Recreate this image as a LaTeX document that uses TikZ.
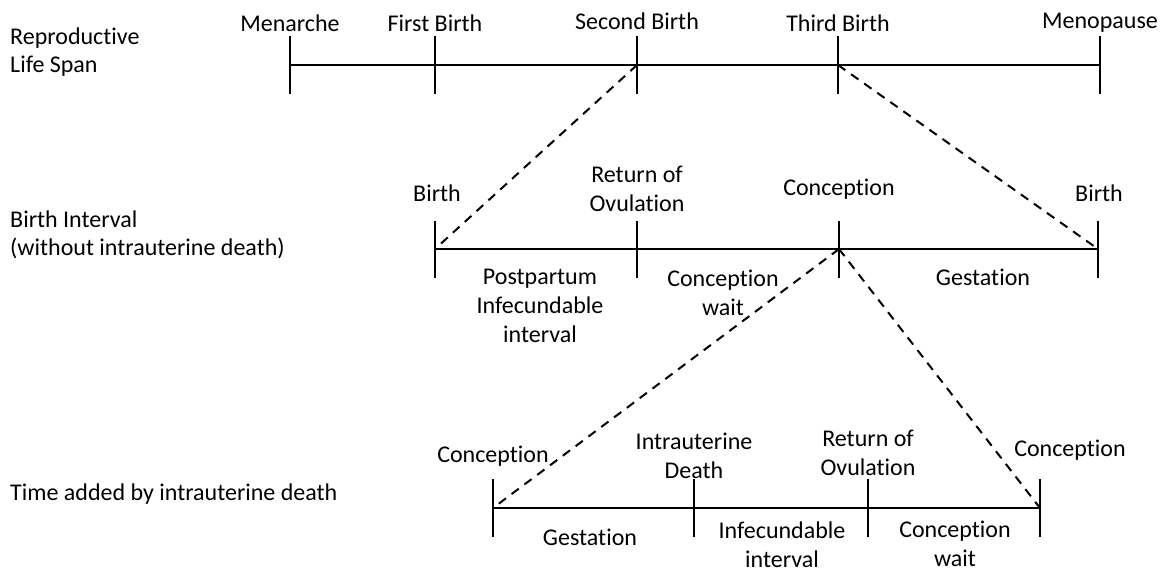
\documentclass[tikz,border=0pt]{standalone}
\usepackage{fontspec}
\setmainfont{Carlito}[Ligatures=NoCommon]
\begin{document}
\begin{tikzpicture}[x=1pt,y=-1pt,
  lbl/.style={font=\fontsize{24}{29}\selectfont, inner sep=0pt, align=center},
  side/.style={font=\fontsize{24}{28}\selectfont, inner sep=0pt, align=left, anchor=west},
  axis/.style={line width=2pt},
  tick/.style={line width=2pt},
  link/.style={line width=2pt, dash pattern=on 9pt off 7pt}]
\useasboundingbox (0,0) rectangle (1168,573);
% side labels
\node[side] (s1) at (10,52) {Reproductive\\Life Span};
\node[side] (s2) at (10,235) {Birth Interval\\(without intrauterine death)};
\node[side] (s3) at (10,494) {Time added by intrauterine death};
% line 1
\coordinate (a1) at (290,65);
\coordinate (a2) at (435,65);
\coordinate (a3) at (637,65);
\coordinate (a4) at (838,65);
\coordinate (a5) at (1100,65);
\draw[axis] (a1) -- (a5);
\foreach \c in {a1,a2,a3,a4,a5} \draw[tick] ([yshift=-29pt]\c) -- ([yshift=29pt]\c);
\node[lbl] (l1) at (290,23) {Menarche};
\node[lbl] (l2) at (435,23) {First Birth};
\node[lbl] (l3) at (637,21) {Second Birth};
\node[lbl] (l4) at (838,23) {Third Birth};
\node[lbl] (l5) at (1100,23) {Menopause};
% line 2
\coordinate (b1) at (435,249);
\coordinate (b2) at (637,249);
\coordinate (b3) at (839,249);
\coordinate (b4) at (1098,249);
\draw[axis] (b1) -- (b4);
\foreach \c in {b1,b2,b3,b4} \draw[tick] ([yshift=-29pt]\c) -- ([yshift=28pt]\c);
\node[lbl] (m1) at (437,193) {Birth};
\node[lbl] (m2) at (637,189) {Return of\\Ovulation};
\node[lbl] (m3) at (839,189) {Conception};
\node[lbl] (m4) at (1099,193) {Birth};
\node[lbl] (m5) at (540,306) {Postpartum\\Infecundable\\interval};
\node[lbl] (m6) at (723,293) {Conception\\wait};
\node[lbl] (m7) at (983,277) {Gestation};
% line 3
\coordinate (c1) at (493,508);
\coordinate (c2) at (694,508);
\coordinate (c3) at (868,508);
\coordinate (c4) at (1040,508);
\draw[axis] (c1) -- (c4);
\foreach \c in {c1,c2,c3,c4} \draw[tick] ([yshift=-29pt]\c) -- ([yshift=29pt]\c);
\node[lbl] (n1) at (493,456) {Conception};
\node[lbl] (n2) at (694,456) {Intrauterine\\Death};
\node[lbl] (n3) at (868,453) {Return of\\Ovulation};
\node[lbl] (n4) at (1070,450) {Conception};
\node[lbl] (n5) at (590,537) {Gestation};
\node[lbl] (n6) at (782,545) {Infecundable\\interval};
\node[lbl] (n7) at (955,544) {Conception\\wait};
% dashed links
\draw[link] (a3) -- (b1);
\draw[link] (a4) -- (b4);
\draw[link] (b3) -- (c1);
\draw[link] (b3) -- (c4);
\end{tikzpicture}
\end{document}
